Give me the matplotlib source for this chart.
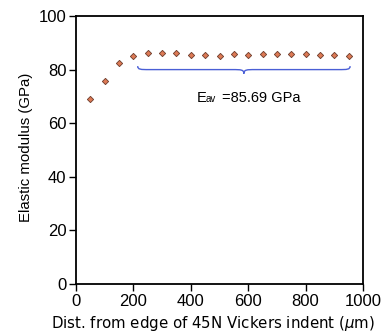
import matplotlib.pyplot as plt
from matplotlib.path import Path
from matplotlib.patches import PathPatch

plt.rcParams['font.family'] = ['Liberation Sans', 'DejaVu Sans']

dist = [50, 100, 150, 200, 250, 300, 350, 400, 450, 500,
        550, 600, 650, 700, 750, 800, 850, 900, 950]
modulus = [69.0, 75.9, 82.6, 85.2, 86.1, 86.1, 86.1, 85.5, 85.5, 85.1,
           85.7, 85.3, 85.7, 85.8, 85.8, 85.8, 85.6, 85.3, 85.2]
e_av = 85.69

fig = plt.figure(figsize=(3.87, 3.34), dpi=100)
ax = fig.add_axes([76 / 387, 1 - 284 / 334, 287 / 387, 268 / 334])

ax.plot(dist, modulus, linestyle='none', marker='D', markersize=3.2,
        markerfacecolor='#dd7a55', markeredgecolor='#6b3a2a', markeredgewidth=0.6)

# curly brace under the plateau
x0, x1, xm = 215, 955, 585
ytop, ymid, ytip = 81.3, 80.0, 78.5
verts = [(x0, ytop),
         (x0, ymid), (x0 + 10, ymid), (x0 + 40, ymid),
         (xm - 40, ymid),
         (xm - 10, ymid), (xm, ymid), (xm, ytip),
         (xm, ymid), (xm + 10, ymid), (xm + 40, ymid),
         (x1 - 40, ymid),
         (x1 - 10, ymid), (x1, ymid), (x1, ytop)]
codes = [Path.MOVETO,
         Path.CURVE4, Path.CURVE4, Path.CURVE4,
         Path.LINETO,
         Path.CURVE4, Path.CURVE4, Path.CURVE4,
         Path.CURVE4, Path.CURVE4, Path.CURVE4,
         Path.LINETO,
         Path.CURVE4, Path.CURVE4, Path.CURVE4]
ax.add_patch(PathPatch(Path(verts, codes), facecolor='none',
                       edgecolor='#4a5fd6', linewidth=1.0))

ax.text(421, 69.5, 'E', fontsize=10.5, va='center', ha='left')
ax.text(452, 69.0, 'av', fontsize=7, va='center', ha='left')
ax.text(508, 69.5, '=%.2f GPa' % e_av, fontsize=10.5, va='center', ha='left')

ax.set_xlim(0, 1000)
ax.set_ylim(0, 100)
ax.set_xticks([0, 200, 400, 600, 800, 1000])
ax.set_yticks([0, 20, 40, 60, 80, 100])
ax.tick_params(direction='out', length=5, width=1, labelsize=12, pad=2)
for s in ax.spines.values():
    s.set_linewidth(1.3)

ax.set_xlabel(r'Dist. from edge of 45N Vickers indent ($\mu$m)', fontsize=10.8,
              family='DejaVu Sans')
ax.xaxis.set_label_coords(0.478, -0.112)
ax.set_ylabel('Elastic modulus (GPa)', fontsize=10.8)
ax.yaxis.set_label_coords(-0.150, 0.51)

fig.savefig('out.png', dpi=100)
